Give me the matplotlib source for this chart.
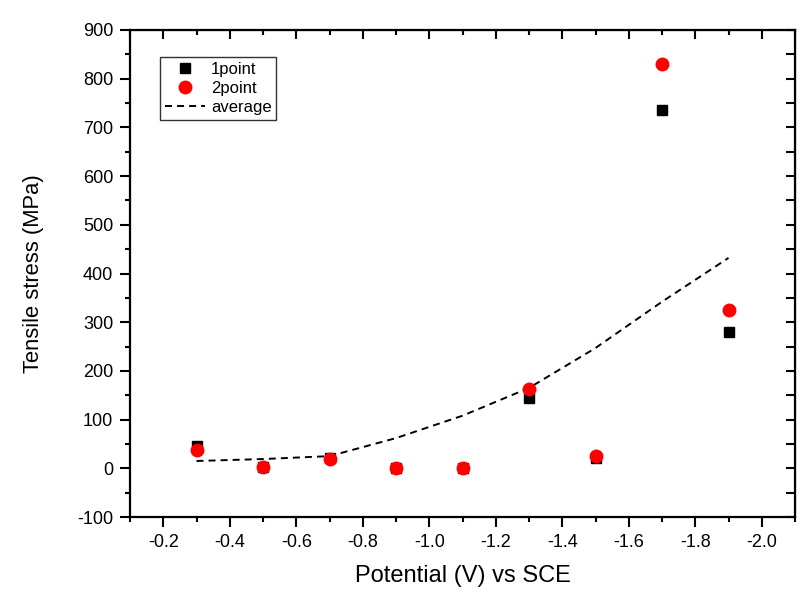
import matplotlib
matplotlib.use("Agg")
import matplotlib.pyplot as plt
from matplotlib.ticker import MultipleLocator

plt.rcParams['font.family'] = ['Liberation Sans', 'DejaVu Sans']
plt.rcParams['axes.unicode_minus'] = False

potential = [-0.3, -0.5, -0.7, -0.9, -1.1, -1.3, -1.5, -1.7, -1.9]
point1 = [46, 2, 22, 0, 0, 145, 22, 736, 280]
point2 = [37, 2, 20, 0, 0, 163, 25, 831, 325]
average = [15, 19, 25, 62, 108, 165, 247, 342, 432]

fig = plt.figure(figsize=(8.09, 6.02), dpi=100)
ax = fig.add_axes([130/809, 1-517/602, 665/809, 487/602])

ax.plot(potential, point1, 's', color='black', ms=7.8, label='1point', zorder=3)
ax.plot(potential, point2, 'o', color='#ff0000', ms=9, label='2point', zorder=4)
ax.plot(potential, average, '--', color='black', lw=1.4, dashes=(3.6, 2.6), label='average', zorder=2)

ax.set_xlim(-0.1, -2.1)
ax.set_ylim(-100, 900)
ax.xaxis.set_major_locator(MultipleLocator(0.2))
ax.xaxis.set_minor_locator(MultipleLocator(0.1))
ax.yaxis.set_major_locator(MultipleLocator(100))
ax.yaxis.set_minor_locator(MultipleLocator(50))
ax.xaxis.set_major_formatter(plt.FuncFormatter(lambda v, p: f"{v:.1f}"))

for s in ax.spines.values():
    s.set_linewidth(1.6)

ax.tick_params(axis='both', which='major', direction='out', length=7, width=1.5, labelsize=13, pad=5)
ax.tick_params(axis='both', which='minor', direction='out', length=3.8, width=1.5)

# top/right inward ticks
axt = ax.secondary_xaxis('top')
axt.xaxis.set_major_locator(MultipleLocator(0.2))
axt.xaxis.set_minor_locator(MultipleLocator(0.1))
axt.tick_params(which='major', direction='in', length=6.5, width=1.5, labeltop=False)
axt.tick_params(which='minor', direction='in', length=3.8, width=1.5)
axr = ax.secondary_yaxis('right')
axr.yaxis.set_major_locator(MultipleLocator(100))
axr.yaxis.set_minor_locator(MultipleLocator(50))
axr.tick_params(which='major', direction='in', length=6.5, width=1.5, labelright=False)
axr.tick_params(which='minor', direction='in', length=6.5, width=1.5)

ax.set_xlabel('Potential (V) vs SCE', fontsize=17, labelpad=10)
ax.set_ylabel('Tensile stress (MPa)', fontsize=15.8, labelpad=24)

leg = ax.legend(loc='upper left', bbox_to_anchor=(30/665, 460/487), borderaxespad=0,
                fontsize=12, frameon=True, fancybox=False, edgecolor='black',
                handlelength=2.4, handletextpad=0.35, borderpad=0.3, labelspacing=0.25)
leg.get_frame().set_linewidth(1.0)

fig.savefig('out.png', dpi=100)
